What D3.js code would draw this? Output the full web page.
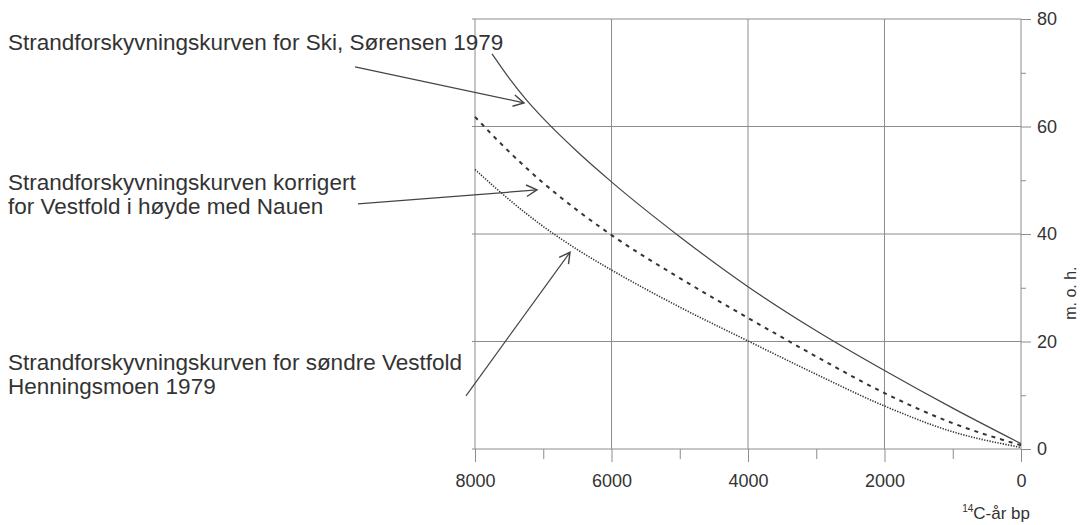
<!DOCTYPE html>
<html>
<head>
    <meta charset="utf-8">
    <title>Strandforskyvningskurver</title>
    <script src="https://d3js.org/d3.v7.min.js"></script>
    <style>
        body { margin: 0; background: #fff; }
        text { font-family: "Liberation Sans", Arial, sans-serif; fill: #333; }
    </style>
</head>
<body>
    <script>
// values (14C years bp, metres above sea level)
const skiYears = [7750, 7500, 7250, 7000, 6500, 6000, 5000, 4000, 3000, 2000, 1000, 0];
const skiHeights = [73.5, 69.0, 65.0, 61.5, 55.3, 49.7, 39.5, 30.2, 22.0, 14.6, 7.6, 1.0];

const korrYears = [8000, 7500, 7000, 6500, 6000, 5000, 4000, 3000, 2000, 1000, 0];
const korrHeights = [61.8, 55.3, 49.5, 44.4, 39.8, 31.8, 24.4, 17.2, 10.4, 4.8, 0.7];

const vestYears = [8000, 7500, 7000, 6500, 6000, 5000, 4000, 3000, 2000, 1000, 0];
const vestHeights = [52, 46.4, 41.4, 37.1, 33.3, 26.4, 20.1, 13.9, 8.0, 3.2, 0.3];

const xMajor = [8000, 6000, 4000, 2000, 0];
const xMinor = [7000, 5000, 3000, 1000];
const yMajor = [0, 20, 40, 60, 80];
const yMinor = [10, 30, 50, 70];

// label lines with the curve their arrow points at
const labels = [
    {lines: ["Strandforskyvningskurven for Ski, Sørensen 1979"], top: 50,
     from: [9758, 71.1], to: [7282, 64.4]},
    {lines: ["Strandforskyvningskurven korrigert", "for Vestfold i høyde med Nauen"], top: 190,
     from: [9714, 45.6], to: [7092, 48.2]},
    {lines: ["Strandforskyvningskurven for søndre Vestfold", "Henningsmoen 1979"], top: 370,
     from: [8132, 9.9], to: [6608, 36.6]}
];

const width = 1080, height = 525;

let x = d3.scaleLinear().domain([8000, 0]).range([475, 1021]);
let y = d3.scaleLinear().domain([0, 80]).range([449, 19]);

let svg = d3.select("body")
    .append("svg")
    .attr("width", width)
    .attr("height", height);

// grid
let grid = svg.append("g").attr("stroke", "#8c8c8c").attr("stroke-width", 1);
grid.selectAll(".gx")
    .data(xMajor)
    .enter()
    .append("line")
    .attr("x1", d => x(d)).attr("x2", d => x(d))
    .attr("y1", y(80)).attr("y2", y(0));
grid.selectAll(".gy")
    .data(yMajor)
    .enter()
    .append("line")
    .attr("x1", x(8000) - 3).attr("x2", x(0))
    .attr("y1", d => y(d)).attr("y2", d => y(d));

// bottom axis
svg.append("g")
    .attr("transform", `translate(0,${y(0)})`)
    .call(d3.axisBottom(x).tickValues(xMajor).tickSize(13).tickPadding(12).tickFormat(d3.format("d")));
svg.append("g")
    .attr("transform", `translate(0,${y(0)})`)
    .call(d3.axisBottom(x).tickValues(xMinor).tickSize(10).tickFormat(""));

// right axis
svg.append("g")
    .attr("transform", `translate(${x(0)},0)`)
    .call(d3.axisRight(y).tickValues(yMajor).tickSize(10).tickPadding(6));
svg.append("g")
    .attr("transform", `translate(${x(0)},0)`)
    .call(d3.axisRight(y).tickValues(yMinor).tickSize(5).tickFormat(""));

svg.selectAll(".domain").remove();
svg.selectAll(".tick line").attr("stroke", "#8c8c8c");
svg.selectAll(".tick text")
    .style("font-family", "'Liberation Sans', Arial, sans-serif")
    .style("font-size", "18px")
    .attr("fill", "#333");

// axis titles
svg.append("text")
    .attr("transform", `translate(1076,${y(29)}) rotate(-90)`)
    .attr("text-anchor", "middle")
    .style("font-size", "16px")
    .text("m. o. h.");

let xt = svg.append("text")
    .attr("x", 1030)
    .attr("y", 519)
    .attr("text-anchor", "end")
    .style("font-size", "17px");
xt.append("tspan").attr("font-size", "10px").attr("dy", "-7").text("14");
xt.append("tspan").attr("dy", "7").text("C-år bp");

// curves
let line = d3.line()
    .x(d => x(d[0]))
    .y(d => y(d[1]))
    .curve(d3.curveMonotoneX);

svg.append("path")
    .datum(d3.zip(skiYears, skiHeights))
    .attr("fill", "none")
    .attr("stroke", "#444")
    .attr("stroke-width", 1.2)
    .attr("d", line);

svg.append("path")
    .datum(d3.zip(korrYears, korrHeights))
    .attr("fill", "none")
    .attr("stroke", "#333")
    .attr("stroke-width", 2)
    .attr("stroke-dasharray", "4,5")
    .attr("d", line);

svg.append("path")
    .datum(d3.zip(vestYears, vestHeights))
    .attr("fill", "none")
    .attr("stroke", "#333")
    .attr("stroke-width", 1.6)
    .attr("stroke-dasharray", "1.3,1.4")
    .attr("d", line);

// labels and arrows
labels.forEach(l => {
    let t = svg.append("text")
        .attr("x", 8)
        .attr("y", l.top)
        .style("font-size", "22.5px");
    l.lines.forEach((s, i) => {
        t.append("tspan").attr("x", 8).attr("dy", i === 0 ? 0 : 24).text(s);
    });

    let x0 = x(l.from[0]), y0 = y(l.from[1]);
    let x1 = x(l.to[0]), y1 = y(l.to[1]);
    let ang = Math.atan2(y1 - y0, x1 - x0);
    let len = 12, spread = 0.5;
    let head = d3.path();
    head.moveTo(x1 - len * Math.cos(ang - spread), y1 - len * Math.sin(ang - spread));
    head.lineTo(x1, y1);
    head.lineTo(x1 - len * Math.cos(ang + spread), y1 - len * Math.sin(ang + spread));

    svg.append("line")
        .attr("x1", x0).attr("y1", y0)
        .attr("x2", x1).attr("y2", y1)
        .attr("stroke", "#444")
        .attr("stroke-width", 1.2);
    svg.append("path")
        .attr("d", head.toString())
        .attr("fill", "none")
        .attr("stroke", "#444")
        .attr("stroke-width", 1.4);
});
    </script>
</body>
</html>
